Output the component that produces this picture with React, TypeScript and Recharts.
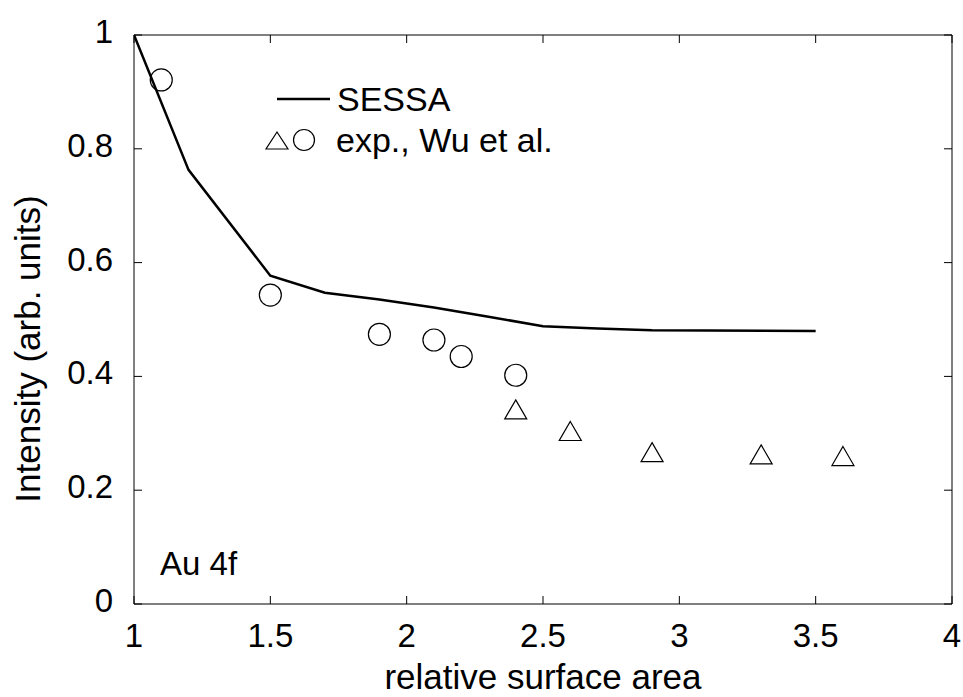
import React from 'react';
import { ComposedChart, Line, Scatter, XAxis, YAxis, Legend } from 'recharts';

const xTicks = [1, 1.5, 2, 2.5, 3, 3.5, 4];
const yTicks = [0, 0.2, 0.4, 0.6, 0.8, 1];

const sessaX = [1, 1.2, 1.5, 1.7, 1.9, 2.1, 2.3, 2.5, 2.7, 2.9, 3.5];
const sessaY = [1, 0.763, 0.577, 0.547, 0.535, 0.521, 0.505, 0.488, 0.484, 0.481, 0.48];
const circleX = [1.1, 1.5, 1.9, 2.1, 2.2, 2.4];
const circleY = [0.921, 0.543, 0.474, 0.464, 0.435, 0.402];
const triX = [2.4, 2.6, 2.9, 3.3, 3.6];
const triY = [0.342, 0.304, 0.267, 0.263, 0.26];

const sessaData = sessaX.map((x, i) => ({ x, y: sessaY[i] }));
const circleData = circleX.map((x, i) => ({ x, y: circleY[i] }));
const triData = triX.map((x, i) => ({ x, y: triY[i] }));

const FONT = '"Liberation Sans", Arial, sans-serif';

const CircleShape = (p: any) => (
  <circle cx={p.cx} cy={p.cy} r={11} fill="none" stroke="#000" strokeWidth={1.2} />
);
const TriShape = (p: any) => (
  <polygon
    points={`${p.cx},${p.cy - 9.5} ${p.cx + 11},${p.cy + 9.5} ${p.cx - 11},${p.cy + 9.5}`}
    fill="none"
    stroke="#000"
    strokeWidth={1.2}
  />
);

const XTick = (p: any) => (
  <text x={p.x} y={p.y} dy={24} textAnchor="middle" fill="#000" fontSize={33} fontFamily={FONT}>
    {p.payload.value}
  </text>
);
const YTick = (p: any) => (
  <text x={p.x} y={p.y} dy={8} textAnchor="end" fill="#000" fontSize={33} fontFamily={FONT}>
    {p.payload.value}
  </text>
);
const NoTick = () => <g />;

const LegendContent = () => (
  <svg width={963} height={697} style={{ position: 'absolute', left: 0, top: 0 }}>
    <line x1={277} y1={99} x2={330} y2={99} stroke="#000" strokeWidth={2.5} />
    <text x={337} y={111} fontSize={34} fontFamily={FONT} fill="#000">SESSA</text>
    <polygon points="277,132 288,149 266,149" fill="none" stroke="#000" strokeWidth={1.2} />
    <circle cx={304} cy={140} r={10.5} fill="none" stroke="#000" strokeWidth={1.2} />
    <text x={336} y={152} fontSize={34} fontFamily={FONT} fill="#000">exp., Wu et al.</text>
    <text x={160} y={575} fontSize={33} fontFamily={FONT} fill="#000">Au 4f</text>
  </svg>
);

export default function App() {
  return (
    <div style={{ position: 'absolute', left: 0, top: 0, width: 963, height: 697, background: '#fff' }}>
      <ComposedChart width={963} height={697} margin={{ top: 34, right: 10, bottom: 0, left: 54 }}>
        <XAxis
          dataKey="x"
          type="number"
          domain={[1, 4]}
          ticks={xTicks}
          allowDataOverflow
          height={93}
          stroke="#000"
          tickSize={-8}
          tickMargin={27}
          tick={XTick}
          label={{
            content: (props: any) => {
              const vb = props.viewBox;
              return (
                <text x={vb.x + vb.width / 2} y={vb.y + 85} textAnchor="middle" fontSize={35} fontFamily={FONT} fill="#000">
                  relative surface area
                </text>
              );
            },
          }}
        />
        <XAxis
          xAxisId="top"
          dataKey="x"
          orientation="top"
          type="number"
          domain={[1, 4]}
          ticks={xTicks}
          allowDataOverflow
          height={1}
          stroke="#000"
          tickSize={-8}
          tick={NoTick}
        />
        <YAxis
          type="number"
          domain={[0, 1]}
          ticks={yTicks}
          width={80}
          stroke="#000"
          tickSize={-8}
          tickMargin={29}
          tick={YTick}
          label={{
            content: () => (
              <text x={40} y={349} transform="rotate(-90, 40, 349)" textAnchor="middle" fontSize={35} fontFamily={FONT} fill="#000">
                Intensity (arb. units)
              </text>
            ),
          }}
        />
        <YAxis
          yAxisId="right"
          orientation="right"
          type="number"
          domain={[0, 1]}
          ticks={yTicks}
          allowDataOverflow
          width={1}
          stroke="#000"
          tickSize={-8}
          tick={NoTick}
        />
        <Line
          data={sessaData}
          dataKey="y"
          type="linear"
          stroke="#000"
          strokeWidth={2.5}
          dot={false}
          isAnimationActive={false}
        />
        <Scatter data={circleData} dataKey="y" shape={CircleShape} isAnimationActive={false} />
        <Scatter data={triData} dataKey="y" shape={TriShape} isAnimationActive={false} />
        <Legend
          layout="horizontal"
          verticalAlign="middle"
          align="center"
          wrapperStyle={{ left: 0, top: 0, width: 963, height: 697, pointerEvents: 'none' }}
          content={LegendContent}
        />
      </ComposedChart>
    </div>
  );
}
